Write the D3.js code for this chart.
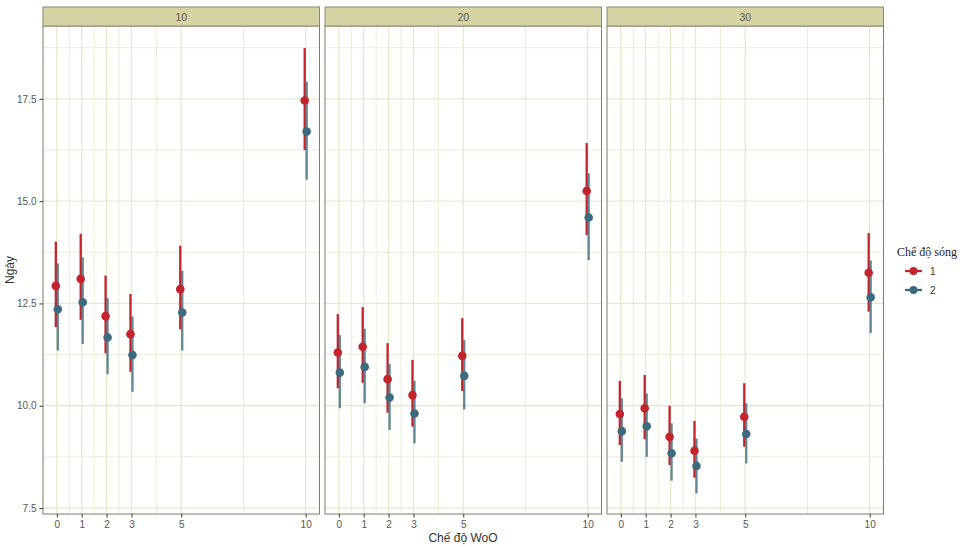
<!DOCTYPE html>
<html>
<head>
<meta charset="utf-8">
<script src="https://cdn.jsdelivr.net/npm/d3@7"></script>
<style>
  body { margin: 0; background: #fff; }
  text { font-family: "Liberation Sans", Arial, sans-serif; }
</style>
</head>
<body>
<div class="d3graph"></div>
<script>
// x positions (Chế độ WoO) and facet labels
var woo = [0, 1, 2, 3, 5, 10];
var facets = ["10", "20", "30"];
var waves = ["1", "2"];
var xTicks = [0, 1, 2, 3, 5, 10];
var xMinor = [0.5, 1.5, 2.5, 4, 7.5];
var yTicks = [7.5, 10, 12.5, 15, 17.5];
var yMinor = [8.75, 11.25, 13.75, 16.25, 18.75];

// wave 1 (red) per facet: mean, lower, upper
var w1_mean_10 = [12.93, 13.10, 12.19, 11.75, 12.85, 17.46];
var w1_lo_10   = [11.92, 12.10, 11.28, 10.83, 11.87, 16.25];
var w1_hi_10   = [14.01, 14.20, 13.18, 12.73, 13.91, 18.74];
var w1_mean_20 = [11.30, 11.44, 10.65, 10.26, 11.22, 15.25];
var w1_lo_20   = [10.43, 10.56, 9.83, 9.49, 10.36, 14.17];
var w1_hi_20   = [12.24, 12.41, 11.53, 11.12, 12.14, 16.42];
var w1_mean_30 = [9.80, 9.94, 9.24, 8.90, 9.73, 13.25];
var w1_lo_30   = [9.04, 9.18, 8.55, 8.24, 9.00, 12.30];
var w1_hi_30   = [10.61, 10.75, 10.00, 9.63, 10.55, 14.22];

// wave 2 (blue)
var w2_mean_10 = [12.36, 12.53, 11.67, 11.24, 12.28, 16.70];
var w2_lo_10   = [11.35, 11.51, 10.77, 10.34, 11.35, 15.52];
var w2_hi_10   = [13.48, 13.63, 12.63, 12.18, 13.30, 17.92];
var w2_mean_20 = [10.81, 10.95, 10.20, 9.81, 10.73, 14.60];
var w2_lo_20   = [9.94, 10.06, 9.41, 9.08, 9.91, 13.56];
var w2_hi_20   = [11.73, 11.88, 11.02, 10.61, 11.61, 15.68];
var w2_mean_30 = [9.38, 9.50, 8.84, 8.53, 9.31, 12.65];
var w2_lo_30   = [8.63, 8.75, 8.17, 7.86, 8.59, 11.78];
var w2_hi_30   = [10.18, 10.30, 9.57, 9.20, 10.06, 13.55];

var series = {
  "10": [[w1_mean_10, w1_lo_10, w1_hi_10], [w2_mean_10, w2_lo_10, w2_hi_10]],
  "20": [[w1_mean_20, w1_lo_20, w1_hi_20], [w2_mean_20, w2_lo_20, w2_hi_20]],
  "30": [[w1_mean_30, w1_lo_30, w1_hi_30], [w2_mean_30, w2_lo_30, w2_hi_30]]
};

var colors = ["#c3242b", "#3c6b80"];
var dodge = [-0.04, 0.04];

var width = 962, height = 547;
var panelW = 276.5, gap = 5.5, left0 = 43;
var stripTop = 7, stripH = 19, panelTop = 26, panelBottom = 514;

var svg = d3.select(".d3graph").append("svg")
  .attr("width", width)
  .attr("height", height);

var y = d3.scaleLinear()
  .domain([7.355, 19.28])
  .range([panelBottom, panelTop]);

var gridCol = "#e6e9cc";

facets.forEach(function(f, i) {
  var x0 = left0 + i * (panelW + gap);
  var x = d3.scaleLinear()
    .domain([-0.555, 10.555])
    .range([x0, x0 + panelW]);

  var g = svg.append("g");

  // grid, minor then major
  g.selectAll(".xminor").data(xMinor).enter().append("line")
    .attr("x1", function(d) { return x(d) }).attr("x2", function(d) { return x(d) })
    .attr("y1", panelTop).attr("y2", panelBottom)
    .attr("stroke", gridCol).attr("stroke-width", 0.8);
  g.selectAll(".yminor").data(yMinor).enter().append("line")
    .attr("x1", x0).attr("x2", x0 + panelW)
    .attr("y1", function(d) { return y(d) }).attr("y2", function(d) { return y(d) })
    .attr("stroke", gridCol).attr("stroke-width", 0.8);
  g.selectAll(".xmajor").data(xTicks).enter().append("line")
    .attr("x1", function(d) { return x(d) }).attr("x2", function(d) { return x(d) })
    .attr("y1", panelTop).attr("y2", panelBottom)
    .attr("stroke", gridCol).attr("stroke-width", 1.3);
  g.selectAll(".ymajor").data(yTicks).enter().append("line")
    .attr("x1", x0).attr("x2", x0 + panelW)
    .attr("y1", function(d) { return y(d) }).attr("y2", function(d) { return y(d) })
    .attr("stroke", gridCol).attr("stroke-width", 1.3);

  // error bars
  var s = series[f];
  s.forEach(function(ser, k) {
    g.selectAll(".bar" + k).data(woo).enter().append("line")
      .attr("x1", function(d) { return x(d + dodge[k]) })
      .attr("x2", function(d) { return x(d + dodge[k]) })
      .attr("y1", function(d, j) { return y(ser[1][j]) })
      .attr("y2", function(d, j) { return y(ser[2][j]) })
      .attr("stroke", colors[k])
      .attr("stroke-width", 2.3)
      .attr("opacity", k == 1 ? 0.8 : 1);
  });
  // points
  s.forEach(function(ser, k) {
    g.selectAll(".dot" + k).data(woo).enter().append("circle")
      .attr("cx", function(d) { return x(d + dodge[k]) })
      .attr("cy", function(d, j) { return y(ser[0][j]) })
      .attr("r", 4.3)
      .attr("fill", colors[k]);
  });

  // panel border
  g.append("rect")
    .attr("x", x0).attr("y", panelTop)
    .attr("width", panelW).attr("height", panelBottom - panelTop)
    .attr("fill", "none").attr("stroke", "#7d7d68").attr("stroke-width", 1);

  // strip
  g.append("rect")
    .attr("x", x0).attr("y", stripTop)
    .attr("width", panelW).attr("height", stripH)
    .attr("fill", "#d6d3a4").attr("stroke", "#8a8a70").attr("stroke-width", 1);
  g.append("text")
    .attr("x", x0 + panelW / 2).attr("y", stripTop + stripH / 2 + 4)
    .attr("text-anchor", "middle")
    .attr("font-size", 10.5).attr("fill", "#5a5a4a")
    .text(f);

  // x axis
  var xa = g.append("g")
    .attr("transform", "translate(0," + panelBottom + ")")
    .call(d3.axisBottom(x).tickValues(xTicks).tickSize(3.5).tickPadding(3));
  xa.select(".domain").remove();
  xa.selectAll("line").attr("stroke", "#333");
  xa.selectAll("text").attr("fill", "#555").attr("font-size", 10);
});

// y axis, only on first panel
var ya = svg.append("g")
  .attr("transform", "translate(" + left0 + ",0)")
  .call(d3.axisLeft(y).tickValues(yTicks).tickSize(3.5).tickPadding(3)
    .tickFormat(d3.format(".1f")));
ya.select(".domain").remove();
ya.selectAll("line").attr("stroke", "#333");
ya.selectAll("text").attr("fill", "#555").attr("font-size", 10);

// axis titles
svg.append("text")
  .attr("x", 463).attr("y", 542)
  .attr("text-anchor", "middle")
  .attr("font-size", 12).attr("fill", "#333")
  .text("Chế độ WoO");
svg.append("text")
  .attr("transform", "translate(14,270) rotate(-90)")
  .attr("text-anchor", "middle")
  .attr("font-size", 12).attr("fill", "#333")
  .text("Ngày");

// legend
var lg = svg.append("g").attr("transform", "translate(897,0)");
lg.append("text")
  .attr("x", 0).attr("y", 256)
  .style("font-family", "'Liberation Serif', 'Times New Roman', serif")
  .attr("font-size", 12).attr("fill", "#222")
  .text("Chế độ sóng");
waves.forEach(function(w, k) {
  var ky = 271 + k * 19;
  lg.append("line")
    .attr("x1", 8).attr("x2", 25).attr("y1", ky).attr("y2", ky)
    .attr("stroke", colors[k]).attr("stroke-width", 2.3);
  lg.append("circle")
    .attr("cx", 16.5).attr("cy", ky).attr("r", 4)
    .attr("fill", colors[k]);
  lg.append("text")
    .attr("x", 33).attr("y", ky + 3.5)
    .attr("font-size", 10).attr("fill", "#333")
    .text(w);
});
</script>
</body>
</html>
